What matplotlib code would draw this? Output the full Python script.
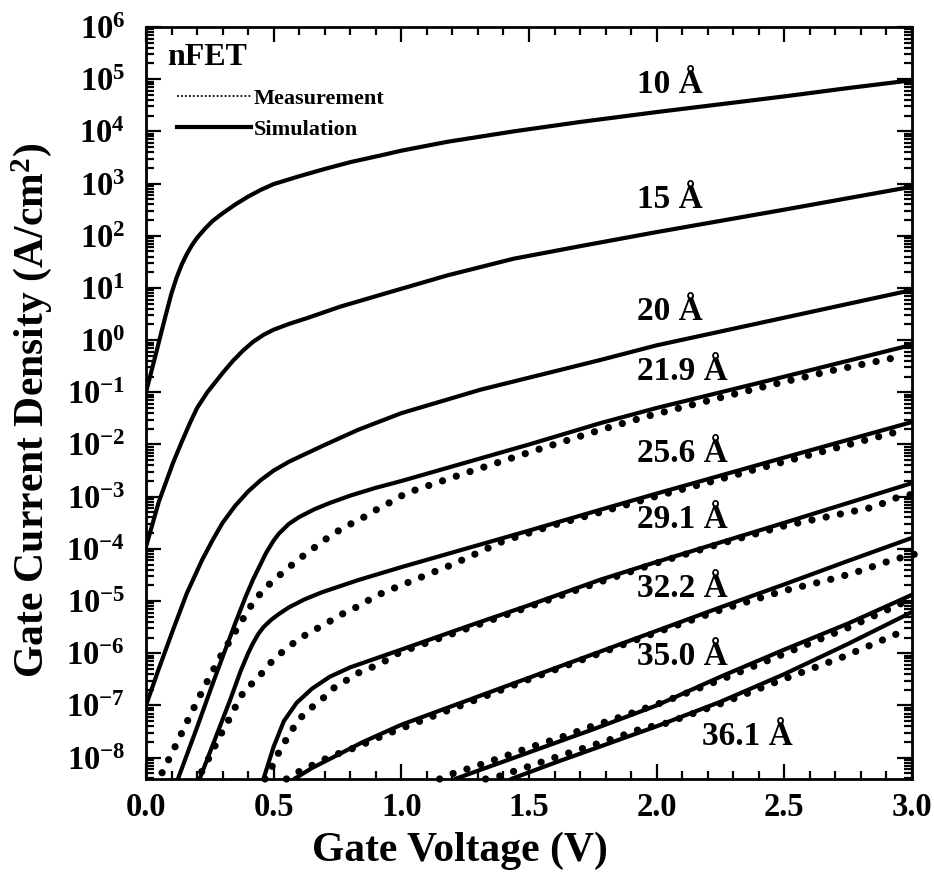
import matplotlib

matplotlib.use("Agg")
import matplotlib.pyplot as plt
import numpy as np
from matplotlib.lines import Line2D
from matplotlib.ticker import FuncFormatter, LogLocator, MultipleLocator, NullFormatter

# gate voltage (V) and log10 of gate current density (A/cm^2)
sim_10_v = [0.0, 0.02, 0.04, 0.06, 0.08, 0.1, 0.12, 0.14, 0.16, 0.18, 0.2, 0.23, 0.26, 0.3,
            0.35, 0.4, 0.45, 0.5, 0.6, 0.7, 0.8, 0.92, 1.0, 1.18, 1.44, 1.7, 2.0, 2.25, 2.5,
            2.75, 3.0]
sim_10_logj = [-1.0, -0.62, -0.24, 0.15, 0.53, 0.9, 1.2, 1.45, 1.65, 1.82, 1.96, 2.13, 2.28,
               2.43, 2.6, 2.75, 2.88, 2.99, 3.14, 3.28, 3.41, 3.54, 3.63, 3.8, 4.0, 4.18, 4.37,
               4.52, 4.67, 4.83, 4.98]

sim_15_v = [0.0, 0.05, 0.106, 0.14, 0.172, 0.2, 0.24, 0.3, 0.34, 0.38, 0.42, 0.46, 0.5, 0.56,
            0.63, 0.76, 0.92, 1.18, 1.44, 1.7, 2.0, 2.5, 3.0]
sim_15_logj = [-3.96, -3.1, -2.35, -1.95, -1.59, -1.3, -1.0, -0.63, -0.4, -0.2, -0.03, 0.1,
               0.2, 0.31, 0.42, 0.64, 0.87, 1.24, 1.56, 1.8, 2.07, 2.5, 2.94]

sim_20_v = [0.0, 0.05, 0.106, 0.16, 0.22, 0.26, 0.3, 0.35, 0.4, 0.45, 0.5, 0.56, 0.69, 0.83,
            1.0, 1.31, 1.78, 2.0, 2.5, 3.0]
sim_20_logj = [-7.0, -6.3, -5.55, -4.85, -4.21, -3.84, -3.5, -3.17, -2.9, -2.68, -2.5, -2.33,
               -2.03, -1.72, -1.4, -0.95, -0.38, -0.1, 0.43, 0.96]

sim_219_v = [0.125, 0.2, 0.26, 0.3, 0.35, 0.39, 0.42, 0.45, 0.47, 0.5, 0.52, 0.56, 0.6, 0.66,
             0.72, 0.8, 0.9, 1.0, 1.25, 1.5, 1.78, 2.0, 2.5, 3.0]
sim_219_logj = [-8.41, -7.42, -6.6, -6.07, -5.42, -4.92, -4.58, -4.28, -4.08, -3.84, -3.71,
                -3.52, -3.39, -3.24, -3.12, -2.98, -2.83, -2.7, -2.35, -2.0, -1.59, -1.3, -0.7,
                -0.09]
meas_219_v = [0.063, 0.118, 0.172, 0.227, 0.286, 0.349, 0.415, 0.454, 0.497, 0.544, 0.595, 0.642,
              0.693, 0.748, 0.803, 0.858, 0.909, 0.967, 1.02, 1.25, 1.52, 1.78, 1.97, 2.17, 2.43,
              2.69, 2.89, 2.95]
meas_219_logj = [-8.29, -7.75, -7.2, -6.66, -6.11, -5.59, -5.06, -4.82, -4.61, -4.42, -4.21, -4.04,
                 -3.85, -3.67, -3.52, -3.38, -3.23, -3.08, -2.93, -2.55, -2.12, -1.72, -1.45, -1.2,
                 -0.88, -0.58, -0.38, -0.32]

sim_256_v = [0.21, 0.27, 0.33, 0.37, 0.4, 0.42, 0.44, 0.46, 0.49, 0.52, 0.56, 0.62, 0.69, 0.83,
             1.0, 1.2, 1.5, 1.78, 2.0, 2.5, 3.0]
sim_256_logj = [-8.41, -7.65, -6.89, -6.35, -6.0, -5.8, -5.63, -5.5, -5.36, -5.25, -5.12, -4.97,
                -4.83, -4.6, -4.35, -4.07, -3.65, -3.25, -2.94, -2.25, -1.57]
meas_256_v = [0.218, 0.245, 0.274, 0.302, 0.333, 0.36, 0.392, 0.419, 0.458, 0.501, 0.548, 0.6,
              0.654, 0.709, 0.764, 0.819, 0.873, 0.928, 0.983, 1.2, 1.4, 1.6, 1.8, 2.0, 2.2, 2.4,
              2.6, 2.8, 2.97]
meas_256_logj = [-8.27, -8.02, -7.74, -7.47, -7.2, -6.93, -6.66, -6.57, -6.36, -6.11, -5.92, -5.72,
                 -5.57, -5.42, -5.26, -5.13, -4.98, -4.84, -4.73, -4.3, -3.85, -3.54, -3.27, -2.99,
                 -2.73, -2.46, -2.2, -1.94, -1.72]

sim_291_v = [0.46, 0.5, 0.54, 0.59, 0.65, 0.72, 0.8, 0.9, 1.0, 1.25, 1.5, 1.78, 2.0, 2.5, 3.0]
sim_291_logj = [-8.41, -7.79, -7.3, -6.95, -6.68, -6.45, -6.27, -6.1, -5.93, -5.5, -5.08, -4.59,
                -4.25, -3.5, -2.74]
meas_291_v = [0.466, 0.497, 0.525, 0.556, 0.59, 0.63, 0.681, 0.724, 0.775, 0.83, 0.889, 0.944,
              0.991, 1.25, 1.5, 1.75, 2.0, 2.25, 2.5, 2.75, 2.85, 2.95, 3.03]
meas_291_logj = [-8.41, -8.14, -7.85, -7.6, -7.33, -7.1, -6.93, -6.7, -6.55, -6.38, -6.26, -6.13,
                 -5.99, -5.54, -5.11, -4.68, -4.27, -3.9, -3.56, -3.3, -3.2, -3.0, -2.93]

sim_322_v = [0.58, 0.65, 0.75, 0.85, 1.0, 1.25, 1.5, 1.75, 2.0, 2.25, 2.5, 2.75, 3.0]
sim_322_logj = [-8.41, -8.2, -7.95, -7.7, -7.37, -6.92, -6.47, -6.02, -5.57, -5.12, -4.68, -4.23,
                -3.79]
meas_322_v = [0.55, 0.59, 0.654, 0.713, 0.772, 0.83, 0.889, 0.948, 1.0, 1.25, 1.5, 1.75, 2.0,
              2.25, 2.5, 2.67, 2.78, 2.9, 2.97, 3.03]
meas_322_logj = [-8.41, -8.29, -8.14, -8.0, -7.89, -7.79, -7.66, -7.54, -7.44, -6.97, -6.5, -6.05,
                 -5.6, -5.17, -4.8, -4.6, -4.45, -4.25, -4.15, -4.08]

sim_350_v = [1.21, 1.5, 1.75, 2.0, 2.25, 2.5, 2.75, 3.0]
sim_350_logj = [-8.41, -7.9, -7.46, -7.0, -6.45, -5.93, -5.43, -4.88]
meas_350_v = [1.15, 1.21, 1.27, 1.33, 1.39, 1.5, 1.62, 1.74, 1.86, 1.97, 2.03, 2.27, 2.51, 2.75,
              2.97]
meas_350_logj = [-8.41, -8.29, -8.2, -8.1, -8.0, -7.81, -7.62, -7.41, -7.22, -7.03, -6.93, -6.47,
                 -5.99, -5.51, -5.02]

sim_361_v = [1.43, 1.6, 1.8, 2.0, 2.25, 2.5, 2.75, 3.0]
sim_361_logj = [-8.41, -8.1, -7.75, -7.4, -6.93, -6.4, -5.82, -5.21]
meas_361_v = [1.33, 1.375, 1.48, 1.6, 1.72, 1.84, 1.95, 2.02, 2.26, 2.49, 2.73, 2.96]
meas_361_logj = [-8.41, -8.37, -8.2, -8.0, -7.81, -7.62, -7.43, -7.37, -6.95, -6.51, -6.07, -5.59]

# oxide thickness labels: text, left edge voltage, log10 of baseline
label_texts = ["10 Å", "15 Å", "20 Å", "21.9 Å", "25.6 Å", "29.1 Å", "32.2 Å", "35.0 Å", "36.1 Å"]
label_v = [1.923, 1.923, 1.923, 1.923, 1.923, 1.923, 1.923, 1.923, 2.178]
label_logj = [4.74, 2.53, 0.39, -0.76, -2.33, -3.6, -4.92, -6.22, -7.75]

SIM_CURVES = [
    (sim_10_v, sim_10_logj),
    (sim_15_v, sim_15_logj),
    (sim_20_v, sim_20_logj),
    (sim_219_v, sim_219_logj),
    (sim_256_v, sim_256_logj),
    (sim_291_v, sim_291_logj),
    (sim_322_v, sim_322_logj),
    (sim_350_v, sim_350_logj),
    (sim_361_v, sim_361_logj),
]
MEAS_CURVES = [
    (meas_219_v, meas_219_logj),
    (meas_256_v, meas_256_logj),
    (meas_291_v, meas_291_logj),
    (meas_322_v, meas_322_logj),
    (meas_350_v, meas_350_logj),
    (meas_361_v, meas_361_logj),
]


def configure_style():
    plt.rcParams.update(
        {
            "font.family": ["Liberation Serif", "DejaVu Serif"],
            "font.weight": "bold",
            "mathtext.fontset": "custom",
            "mathtext.rm": "Liberation Serif:bold",
            "mathtext.bf": "Liberation Serif:bold",
            "mathtext.it": "Liberation Serif:italic:bold",
            "mathtext.default": "bf",
            "axes.linewidth": 2.0,
        }
    )


def decade_label(value, _pos):
    return rf"$10^{{{int(round(np.log10(value)))}}}$"


def main():
    configure_style()
    fig = plt.figure(figsize=(9.34, 8.76), dpi=100)
    ax = fig.add_axes([146 / 934, 1 - 779 / 876, 766 / 934, 752 / 876])

    for v, logj in SIM_CURVES:
        ax.plot(v, 10.0 ** np.array(logj), color="black", lw=3.0,
                solid_capstyle="round", solid_joinstyle="round")

    for v, logj in MEAS_CURVES:
        ax.plot(v, 10.0 ** np.array(logj), color="black", lw=5.2,
                linestyle=(0, (0.01, 2.0)), dash_capstyle="round", clip_on=False)

    ax.set_yscale("log")
    ax.set_xlim(0.0, 3.0)
    ax.set_ylim(10 ** -8.41, 1e6)

    ax.set_yticks([10.0 ** k for k in range(-8, 7)])
    ax.yaxis.set_major_formatter(FuncFormatter(decade_label))
    ax.yaxis.set_minor_locator(LogLocator(base=10, subs=range(2, 10), numticks=100))
    ax.yaxis.set_minor_formatter(NullFormatter())
    ax.xaxis.set_major_locator(MultipleLocator(0.5))
    ax.xaxis.set_minor_locator(MultipleLocator(0.1))
    ax.xaxis.set_major_formatter(FuncFormatter(lambda x, _p: f"{x:.1f}"))

    ax.tick_params(which="both", direction="in", top=True, right=True, width=1.6,
                   labelsize=23.5)
    ax.tick_params(which="major", length=11)
    ax.tick_params(which="minor", length=6)
    ax.tick_params(axis="x", pad=9)
    ax.tick_params(axis="y", pad=15)

    ax.set_xlabel("Gate Voltage (V)", fontsize=30, fontweight="bold")
    ax.xaxis.set_label_coords(0.41, -0.07)
    ax.set_ylabel("Gate Current Density (A/cm$^2$)", fontsize=30, fontweight="bold")
    ax.yaxis.set_label_coords(-0.12, 0.49)

    for text, v, logj in zip(label_texts, label_v, label_logj):
        ax.text(v, 10.0 ** logj, text, ha="left", va="baseline", fontsize=24,
                fontweight="bold")

    ax.text(0.027, 0.959, "nFET", transform=ax.transAxes, ha="left", va="center",
            fontsize=23, fontweight="bold")

    meas_handle = Line2D([], [], color="black", lw=1.3, linestyle=(0, (1, 1.2)))
    sim_handle = Line2D([], [], color="black", lw=3.0)
    ax.legend([meas_handle, sim_handle], ["Measurement", "Simulation"], loc="upper left",
              bbox_to_anchor=(0.041, 0.918), frameon=False, fontsize=16,
              handlelength=3.3, handletextpad=0.15, labelspacing=0.45,
              borderpad=0, borderaxespad=0)

    fig.savefig("out.png", dpi=100, facecolor="white")
    plt.close(fig)


if __name__ == "__main__":
    main()
